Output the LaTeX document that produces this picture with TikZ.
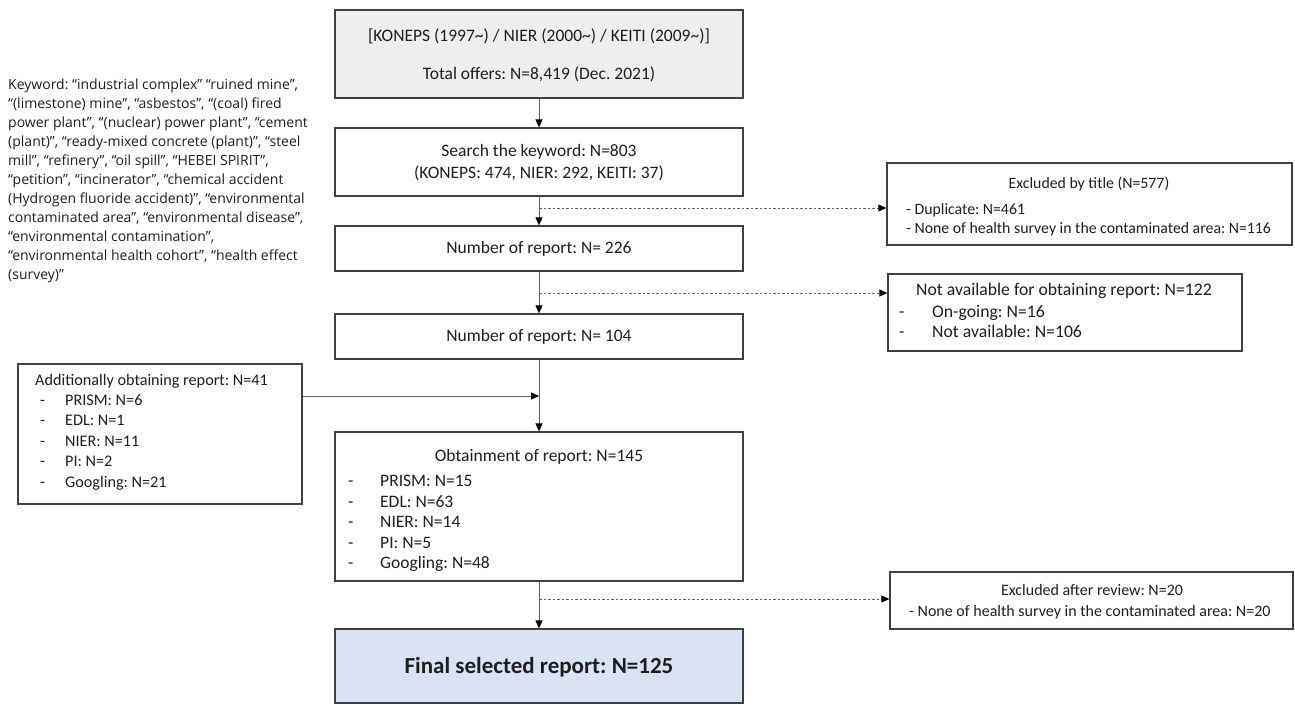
\documentclass[tikz,border=0pt]{standalone}
\usepackage{graphicx}
\usepackage{fontspec}
\setmainfont{Carlito}
\newfontfamily\kwfont{Open Sans}
\usetikzlibrary{arrows.meta}
\definecolor{boxline}{RGB}{64,64,64}
\definecolor{topfill}{RGB}{238,238,238}
\definecolor{finalfill}{RGB}{218,227,243}
\definecolor{linegray}{RGB}{100,100,100}
\definecolor{txt}{RGB}{30,30,30}
\frenchspacing
\begin{document}
\begin{tikzpicture}[x=1pt,y=-1pt,
  box/.style={draw=boxline, line width=1.3pt, inner sep=0pt},
  lbl/.style={inner sep=0pt, text=txt, font=\fontsize{17.5}{20}\selectfont, text height=12.3pt, text depth=3.5pt},
  lft/.style={lbl, anchor=west},
  sm/.style={font=\fontsize{15.8}{18}\selectfont, text height=11.1pt, text depth=3.2pt},
  md/.style={font=\fontsize{16.2}{19}\selectfont, text height=11.4pt, text depth=3.2pt},
  rv/.style={font=\fontsize{16}{19}\selectfont, text height=11.2pt, text depth=3.2pt},
  nv/.style={font=\fontsize{17.7}{20}\selectfont, text height=12.4pt, text depth=3.5pt},
  kw/.style={inner sep=0pt, anchor=west, text=txt, font=\kwfont\fontsize{14}{16}\selectfont, text height=10pt, text depth=2.9pt},
  flow/.style={draw=linegray, line width=0.9pt, -{Triangle[length=8pt,width=7pt,color=black]}},
  dflow/.style={flow, dash pattern=on 2.5pt off 2pt},
]
\useasboundingbox (0,0) rectangle (1295,704);

% boxes
\node[box, fill=topfill, minimum width=408pt, minimum height=88pt] (top) at (539,54) {};
\node[box, minimum width=408pt, minimum height=68pt] (search) at (539,162) {};
\node[box, minimum width=408pt, minimum height=45pt] (b226) at (539,248.5) {};
\node[box, minimum width=408pt, minimum height=45pt] (b104) at (539,336.5) {};
\node[box, minimum width=408pt, minimum height=149pt] (obt) at (539,506.5) {};
\node[box, fill=finalfill, minimum width=408pt, minimum height=74pt] (final) at (539,666) {};
\node[box, minimum width=405pt, minimum height=82pt] (excl) at (1089.5,204) {};
\node[box, minimum width=354pt, minimum height=77pt] (navail) at (1065,312.5) {};
\node[box, minimum width=403pt, minimum height=57pt] (review) at (1091.5,600.5) {};
\node[box, minimum width=284pt, minimum height=140pt] (addl) at (160,434) {};

% texts in main column
\node[lbl] (top1) at (539,37) {[KONEPS (1997\textasciitilde) / NIER (2000\textasciitilde) / KEITI (2009\textasciitilde)]};
\node[lbl] (top2) at (539,75) {Total offers: N=8,419 (Dec. 2021)};
\node[lbl] (s1) at (539,152) {Search the keyword: N=803};
\node[lbl] (s2) at (539,174) {(KONEPS: 474, NIER: 292, KEITI: 37)};
\node[lbl] (t226) at (539,249) {Number of report: N= 226};
\node[lbl] (t104) at (539,337) {Number of report: N= 104};
\node[lbl] (obtt) at (539,457) {Obtainment of report: N=145};
\node[lft] (od1) at (348,482) {-}; \node[lft] (oi1) at (380,482) {PRISM: N=15};
\node[lft] (od2) at (348,503) {-}; \node[lft] (oi2) at (380,503) {EDL: N=63};
\node[lft] (od3) at (348,523) {-}; \node[lft] (oi3) at (380,523) {NIER: N=14};
\node[lft] (od4) at (348,544) {-}; \node[lft] (oi4) at (380,544) {PI: N=5};
\node[lft] (od5) at (348,564) {-}; \node[lft] (oi5) at (380,564) {Googling: N=48};
\node[lbl, font=\bfseries\fontsize{23}{27}\selectfont, text height=16pt, text depth=5pt] (fint) at (539,668) {Final selected report: N=125};

% right side texts
\node[lbl, sm] (exclt) at (1089,185) {Excluded by title (N=577)};
\node[lft, sm] (exi1) at (906,211) {- Duplicate: N=461};
\node[lft, sm] (exi2) at (906,230) {- None of health survey in the contaminated area: N=116};
\node[lft, nv] (navt) at (916,291) {Not available for obtaining report: N=122};
\node[lft, nv] (nd1) at (899,313) {-}; \node[lft, nv] (ni1) at (932,313) {On-going: N=16};
\node[lft, nv] (nd2) at (899,333) {-}; \node[lft, nv] (ni2) at (932,333) {Not available: N=106};
\node[lbl, rv] (revt) at (1092,591) {Excluded after review: N=20};
\node[lft, rv] (revi) at (909,612) {- None of health survey in the contaminated area: N=20};

% additional box texts
\node[lft, md] (addt) at (35,381) {Additionally obtaining report: N=41};
\node[lft, md] (ad1) at (40,401) {-}; \node[lft, md] (ai1) at (65,401) {PRISM: N=6};
\node[lft, md] (ad2) at (40,421) {-}; \node[lft, md] (ai2) at (65,421) {EDL: N=1};
\node[lft, md] (ad3) at (40,442) {-}; \node[lft, md] (ai3) at (65,442) {NIER: N=11};
\node[lft, md] (ad4) at (40,462) {-}; \node[lft, md] (ai4) at (65,462) {PI: N=2};
\node[lft, md] (ad5) at (40,483) {-}; \node[lft, md] (ai5) at (65,483) {Googling: N=21};

% keyword text
\node[kw] (kw1) at (8,86) {Keyword: “industrial complex” “ruined mine”,};
\node[kw] (kw2) at (8,105) {“(limestone) mine”, “asbestos”, “(coal) fired};
\node[kw] (kw3) at (8,124) {power plant”, “(nuclear) power plant”, “cement};
\node[kw] (kw4) at (8,143) {(plant)”, “ready-mixed concrete (plant)”, “steel};
\node[kw] (kw5) at (8,162) {mill”, “refinery”, “oil spill”, “HEBEI SPIRIT”,};
\node[kw] (kw6) at (8,181) {“petition”, “incinerator”, “chemical accident};
\node[kw] (kw7) at (8,200) {(Hydrogen fluoride accident)”, “environmental};
\node[kw] (kw8) at (8,219) {contaminated area”, “environmental disease”,};
\node[kw] (kw9) at (8,238) {“environmental contamination”,};
\node[kw] (kw10) at (8,257) {“environmental health cohort”, “health effect};
\node[kw] (kw11) at (8,276) {(survey)”};

% connectors
\draw[flow] (top.south) -- (search.north);
\draw[flow] (search.south) -- (b226.north);
\draw[flow] (b226.south) -- (b104.north);
\draw[flow] (b104.south) -- (obt.north);
\draw[flow] (obt.south) -- (final.north);
\coordinate (d1) at (539,208);
\coordinate (d2) at (539,293);
\coordinate (d3) at (539,599);
\coordinate (m1) at (539,396);
\draw[dflow] (d1) -- (d1 -| excl.west);
\draw[dflow] (d2) -- (d2 -| navail.west);
\draw[dflow] (d3) -- (d3 -| review.west);
\draw[flow] (addl.east |- m1) -- (m1);
\end{tikzpicture}
\end{document}
